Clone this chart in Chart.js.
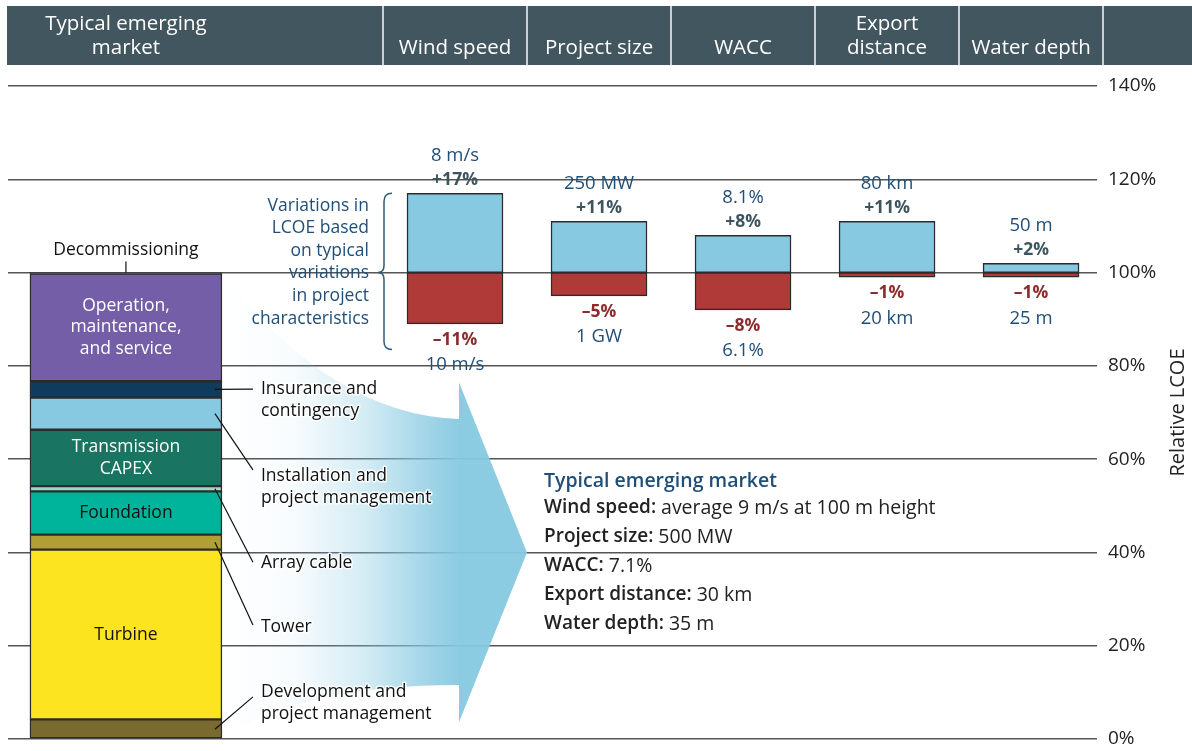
<!DOCTYPE html>
<html>
<head>
<meta charset="utf-8">
<title>Offshore wind LCOE – typical emerging market</title>
<script src="https://cdn.jsdelivr.net/npm/chart.js@4.4.0/dist/chart.umd.min.js"></script>
<style>
    html, body { margin: 0; padding: 0; background: #fff; }
    canvas { display: block; }
</style>
</head>
<body>
<canvas id="lcoe-chart" width="1192" height="751"></canvas>
<script>
// ---- data ----
const factors = ['Wind speed', 'Project size', 'WACC', 'Export distance', 'Water depth'];
const factorHeaders = [['Wind speed'], ['Project size'], ['WACC'], ['Export', 'distance'], ['Water depth']];
const marketHeader = ['Typical emerging', 'market'];
const baseLcoe = 100;
const increase = [17, 11, 8, 11, 2];
const decrease = [-11, -5, -8, -1, -1];
const highCase = ['8 m/s', '250 MW', '8.1%', '80 km', '50 m'];
const lowCase = ['10 m/s', '1 GW', '6.1%', '20 km', '25 m'];

const components = ['Development and project management', 'Turbine', 'Tower', 'Foundation', 'Array cable',
    'Transmission CAPEX', 'Installation and project management', 'Insurance and contingency',
    'Operation, maintenance, and service', 'Decommissioning'];
const shares = [4.2, 36.4, 3.2, 9.3, 1.1, 12.1, 6.9, 3.5, 23.1, 0.2];

const yTicks = [0, 20, 40, 60, 80, 100, 120, 140];

const baseCaseTitle = 'Typical emerging market';
const baseCase = [
    ['Wind speed', 'average 9 m/s at 100 m height'],
    ['Project size', '500 MW'],
    ['WACC', '7.1%'],
    ['Export distance', '30 km'],
    ['Water depth', '35 m']
];
const braceNote = ['Variations in', 'LCOE based', 'on typical', 'variations', 'in project', 'characteristics'];

// ---- look & layout ----
const FONT = '"Open Sans", "Noto Sans", sans-serif';
const componentColors = ['#7b6a2f', '#fde420', '#b09f34', '#00b39b', '#9ad8c8',
    '#1a7462', '#86c9e0', '#0f3b5c', '#735ea7', '#444444'];
const marketX = -2.285;          // x position of the cost stack on the index axis
const stackWidth = 192;
const factorWidth = 96;

// labels drawn inside the stack (index into components)
const insideLabels = [
    { seg: 8, lines: ['Operation,', 'maintenance,', 'and service'], color: '#ffffff' },
    { seg: 5, lines: ['Transmission', 'CAPEX'], color: '#ffffff' },
    { seg: 3, lines: ['Foundation'], color: '#111111' },
    { seg: 1, lines: ['Turbine'], color: '#111111' }
];
// callouts beside the stack: label placed at a value on the y axis
const callouts = [
    { seg: 7, lines: ['Insurance and', 'contingency'], at: 75.0, dy: 0 },
    { seg: 6, lines: ['Installation and', 'project management'], at: 56.4, dy: -6 },
    { seg: 4, lines: ['Array cable'], at: 37.7, dy: -1 },
    { seg: 2, lines: ['Tower'], at: 24.0, dy: -2 },
    { seg: 0, lines: ['Development and', 'project management'], at: 10.1, dy: 5 }
];
const arrowShape = { topCtrl: 69.5, bodyTop: 68.6, headTop: 76.5, apex: 40, headBottom: 3.6, bodyBottom: 11.6 };

let acc = 0;
const stackRanges = shares.map(s => { const r = [acc, acc + s]; acc += s; return r; });

function haloText(ctx, text, x, y) {
    ctx.save();
    ctx.lineWidth = 3;
    ctx.lineJoin = 'round';
    ctx.strokeStyle = 'rgba(255,255,255,0.9)';
    ctx.strokeText(text, x, y);
    ctx.restore();
    ctx.fillText(text, x, y);
}

function drawHeader(chart) {
    const { ctx, scales: { x } } = chart;
    ctx.save();
    ctx.fillStyle = '#41565f';
    ctx.fillRect(7, 6, chart.width - 7, 59);
    ctx.strokeStyle = '#c9d1d4';
    ctx.lineWidth = 2;
    for (let i = 0; i <= factors.length; i++) {
        const px = Math.round(x.getPixelForValue(i - 0.5));
        ctx.beginPath();
        ctx.moveTo(px, 6);
        ctx.lineTo(px, 65);
        ctx.stroke();
    }
    ctx.fillStyle = '#ffffff';
    ctx.font = '500 20.5px ' + FONT;
    ctx.textAlign = 'center';
    ctx.textBaseline = 'middle';
    const cols = [marketHeader].concat(factorHeaders);
    const centers = [x.getPixelForValue(marketX)].concat(factors.map((f, i) => x.getPixelForValue(i)));
    cols.forEach((lines, k) => {
        lines.forEach((t, j) => ctx.fillText(t, centers[k], 48 - (lines.length - 1 - j) * 23.5));
    });
    ctx.restore();
}

function drawArrow(chart) {
    const { ctx, scales: { x, y } } = chart;
    const left = x.getPixelForValue(marketX) + stackWidth / 2;
    const base = x.getPixelForValue(0) + 4;
    const tip = x.getPixelForValue(0.5);
    const grad = ctx.createLinearGradient(left, 0, base, 0);
    grad.addColorStop(0, 'rgba(134,201,224,0)');
    grad.addColorStop(0.3, 'rgba(134,201,224,0.06)');
    grad.addColorStop(0.6, 'rgba(134,201,224,0.35)');
    grad.addColorStop(0.85, 'rgba(134,201,224,0.75)');
    grad.addColorStop(1, 'rgba(134,201,224,0.95)');
    ctx.save();
    ctx.fillStyle = grad;
    ctx.beginPath();
    ctx.moveTo(left, y.getPixelForValue(baseLcoe));
    ctx.quadraticCurveTo(left + (base - left) * 0.46, y.getPixelForValue(arrowShape.topCtrl), base, y.getPixelForValue(arrowShape.bodyTop));
    ctx.lineTo(base, y.getPixelForValue(arrowShape.headTop));
    ctx.lineTo(tip, y.getPixelForValue(arrowShape.apex));
    ctx.lineTo(base, y.getPixelForValue(arrowShape.headBottom));
    ctx.lineTo(base, y.getPixelForValue(arrowShape.bodyBottom));
    ctx.quadraticCurveTo(left + (base - left) * 0.33, y.getPixelForValue(arrowShape.bodyBottom), left, y.getPixelForValue(0));
    ctx.closePath();
    ctx.fill();
    ctx.restore();
}

function drawFactorLabels(chart) {
    const { ctx, scales: { x, y } } = chart;
    ctx.save();
    ctx.textAlign = 'center';
    ctx.textBaseline = 'middle';
    factors.forEach((f, i) => {
        const px = x.getPixelForValue(i);
        const top = y.getPixelForValue(baseLcoe + increase[i]);
        const bottom = y.getPixelForValue(baseLcoe + decrease[i]);
        ctx.font = '18.5px ' + FONT;
        ctx.fillStyle = '#1f4e79';
        ctx.fillText(highCase[i], px, top - 38);
        ctx.fillText(lowCase[i], px, bottom + 41);
        ctx.font = '700 17.5px ' + FONT;
        ctx.fillStyle = '#3e5560';
        ctx.fillText('+' + increase[i] + '%', px, top - 13);
        ctx.fillStyle = '#8b2b2b';
        ctx.fillText('\u2013' + Math.abs(decrease[i]) + '%', px, bottom + 16);
    });
    ctx.restore();
}

function drawStackLabels(chart) {
    const { ctx, scales: { x, y } } = chart;
    const cx = x.getPixelForValue(marketX);
    const right = cx + stackWidth / 2;
    const textX = right + 39;
    ctx.save();
    ctx.textBaseline = 'middle';
    ctx.font = '500 17.5px ' + FONT;

    ctx.textAlign = 'center';
    insideLabels.forEach(l => {
        const mid = y.getPixelForValue((stackRanges[l.seg][0] + stackRanges[l.seg][1]) / 2);
        ctx.fillStyle = l.color;
        l.lines.forEach((t, j) => ctx.fillText(t, cx, mid + (j - (l.lines.length - 1) / 2) * 21.5));
    });

    // decommissioning sits on top of the stack
    const topPx = y.getPixelForValue(stackRanges[stackRanges.length - 1][1]);
    ctx.fillStyle = '#111';
    ctx.fillText(components[components.length - 1], cx, topPx - 23);
    ctx.strokeStyle = '#111';
    ctx.lineWidth = 1.2;
    ctx.beginPath();
    ctx.moveTo(cx, topPx - 11);
    ctx.lineTo(cx, topPx);
    ctx.stroke();

    ctx.textAlign = 'left';
    callouts.forEach(c => {
        const mid = y.getPixelForValue((stackRanges[c.seg][0] + stackRanges[c.seg][1]) / 2);
        const ly = y.getPixelForValue(c.at);
        ctx.beginPath();
        ctx.moveTo(right - 7, mid);
        ctx.lineTo(textX - 8, ly + c.dy);
        ctx.stroke();
        ctx.fillStyle = '#111';
        c.lines.forEach((t, j) => haloText(ctx, t, textX, ly + j * 22));
    });
    ctx.restore();
}

function drawBrace(chart) {
    const { ctx, scales: { x, y } } = chart;
    const bx = x.getPixelForValue(-0.5) + 1;
    const top = y.getPixelForValue(baseLcoe + Math.max(...increase));
    const mid = y.getPixelForValue(baseLcoe);
    const bottom = y.getPixelForValue(83.5);
    ctx.save();
    ctx.strokeStyle = '#2f5b7c';
    ctx.lineWidth = 1.5;
    ctx.beginPath();
    ctx.moveTo(bx + 8, top);
    ctx.quadraticCurveTo(bx, top, bx, top + 8);
    ctx.lineTo(bx, mid - 7);
    ctx.quadraticCurveTo(bx, mid, bx - 6, mid);
    ctx.quadraticCurveTo(bx, mid, bx, mid + 7);
    ctx.lineTo(bx, bottom - 8);
    ctx.quadraticCurveTo(bx, bottom, bx + 8, bottom);
    ctx.stroke();
    ctx.fillStyle = '#1f4e79';
    ctx.font = '17.5px ' + FONT;
    ctx.textAlign = 'right';
    ctx.textBaseline = 'middle';
    braceNote.forEach((t, j) => ctx.fillText(t, bx - 15, mid - 67 + j * 22.6));
    ctx.restore();
}

function drawBaseCase(chart) {
    const { ctx, scales: { x, y } } = chart;
    const tx = x.getPixelForValue(0.5) + 17;
    const ty = y.getPixelForValue(55.3);
    ctx.save();
    ctx.textAlign = 'left';
    ctx.textBaseline = 'middle';
    ctx.font = '600 19.5px ' + FONT;
    ctx.fillStyle = '#1f4e79';
    ctx.fillText(baseCaseTitle, tx, ty);
    baseCase.forEach(([label, value], j) => {
        const ly = ty + 27 + j * 29;
        ctx.font = '600 19px ' + FONT;
        ctx.fillStyle = '#222';
        const lbl = label + ': ';
        ctx.fillText(lbl, tx, ly);
        const w = ctx.measureText(lbl).width;
        ctx.font = '19.5px ' + FONT;
        ctx.fillText(value, tx + w, ly);
    });
    ctx.restore();
}

function drawAxisTitle(chart) {
    const { ctx, chartArea } = chart;
    ctx.save();
    ctx.translate(chart.width - 14, (chartArea.top + chartArea.bottom) / 2);
    ctx.rotate(-Math.PI / 2);
    ctx.font = '20px ' + FONT;
    ctx.fillStyle = '#222';
    ctx.textAlign = 'center';
    ctx.textBaseline = 'middle';
    ctx.fillText('Relative LCOE', 0, 0);
    ctx.restore();
}

const decor = {
    id: 'decor',
    beforeDraw: drawHeader,
    beforeDatasetsDraw: drawArrow,
    afterDatasetsDraw(chart) {
        drawFactorLabels(chart);
        drawStackLabels(chart);
        drawBrace(chart);
        drawBaseCase(chart);
        drawAxisTitle(chart);
    }
};

const barStyle = { borderColor: '#2b2b2b', borderWidth: 1.5, borderSkipped: false, grouped: false };

new Chart(document.getElementById('lcoe-chart'), {
    type: 'bar',
    data: {
        datasets: [
            Object.assign({
                label: 'Cost components',
                data: stackRanges.map(r => ({ x: marketX, y: r })),
                backgroundColor: componentColors,
                barThickness: stackWidth
            }, barStyle),
            Object.assign({
                label: 'Higher LCOE',
                data: increase.map((v, i) => ({ x: i, y: [baseLcoe, baseLcoe + v] })),
                backgroundColor: '#86c9e0',
                barThickness: factorWidth
            }, barStyle),
            Object.assign({
                label: 'Lower LCOE',
                data: decrease.map((v, i) => ({ x: i, y: [baseLcoe + v, baseLcoe] })),
                backgroundColor: '#b03a37',
                barThickness: factorWidth
            }, barStyle)
        ]
    },
    options: {
        responsive: false,
        devicePixelRatio: 1,
        animation: false,
        events: [],
        layout: { padding: { left: 8, top: 86, right: 0, bottom: 12 } },
        plugins: { legend: { display: false }, tooltip: { enabled: false } },
        scales: {
            x: {
                type: 'linear',
                display: false,
                offset: false,
                min: -3.104,
                max: 4.458,
                grid: { offset: false }
            },
            y: {
                type: 'linear',
                position: 'right',
                min: 0,
                max: 140,
                afterBuildTicks: scale => { scale.ticks = yTicks.map(v => ({ value: v })); },
                afterFit: scale => {
                    scale.width = 95;
                    scale.paddingTop = 0;
                    scale.paddingBottom = 0;
                },
                border: { display: false },
                grid: { color: '#555', lineWidth: 1.5, drawTicks: false },
                ticks: {
                    padding: 11,
                    color: '#222',
                    font: { family: FONT, size: 19 },
                    callback: v => v + '%'
                }
            }
        }
    },
    plugins: [decor]
});
</script>
</body>
</html>
